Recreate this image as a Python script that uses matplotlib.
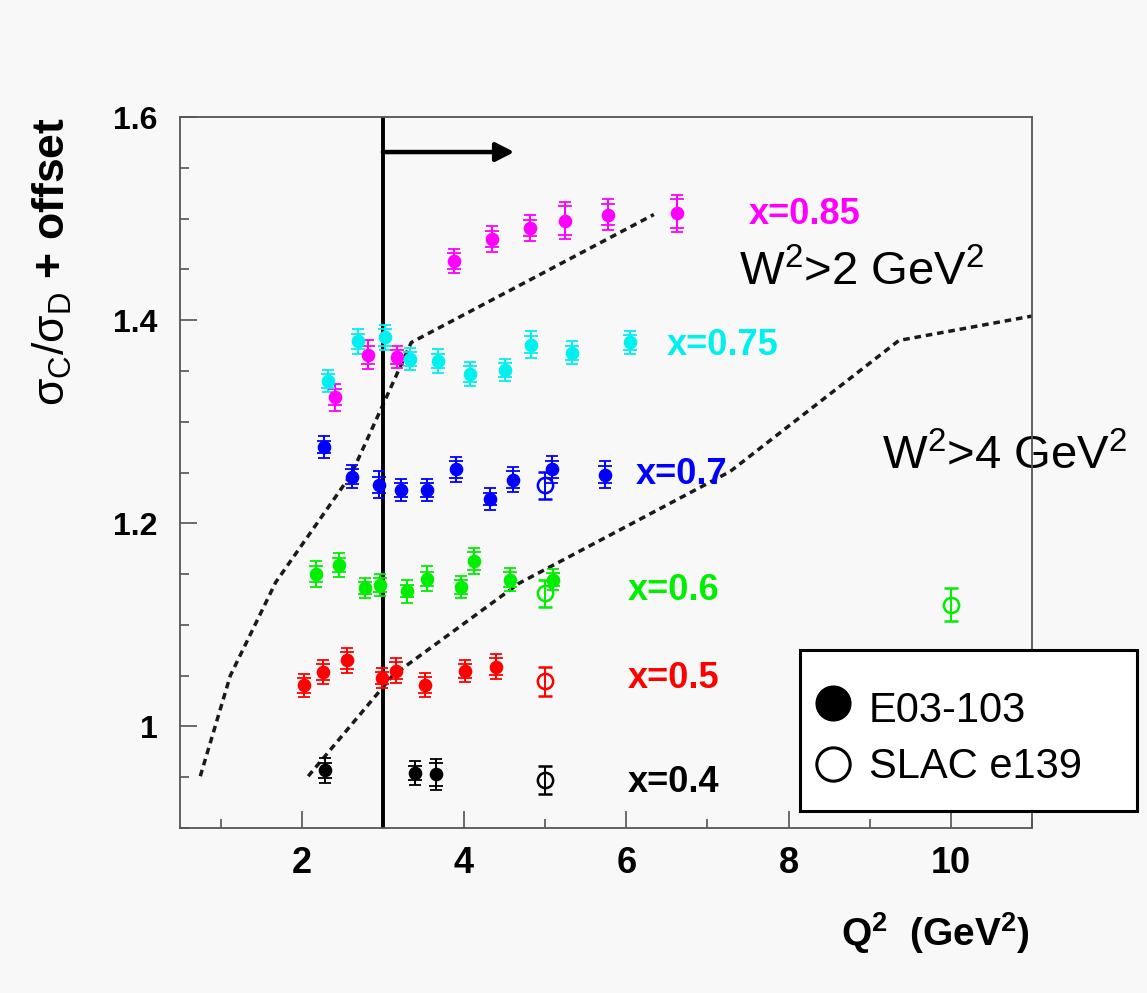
import matplotlib
matplotlib.use("Agg")
import matplotlib.pyplot as plt
from matplotlib.lines import Line2D
from matplotlib.patches import Rectangle
from matplotlib.ticker import FixedLocator, FixedFormatter, MultipleLocator

plt.rcParams['font.family'] = ['Liberation Sans', 'DejaVu Sans']
plt.rcParams['mathtext.fontset'] = 'custom'
plt.rcParams['mathtext.rm'] = 'Liberation Sans'
plt.rcParams['mathtext.it'] = 'Liberation Sans:italic'
plt.rcParams['mathtext.bf'] = 'Liberation Sans:bold'

# ---- datos E03-103 (puntos llenos), uno por cada x ----
q2_085 = [2.41, 2.82, 3.17, 3.88, 4.35, 4.81, 5.25, 5.78, 6.62]
r_085 = [1.324, 1.366, 1.364, 1.458, 1.480, 1.491, 1.498, 1.504, 1.505]
tot_085 = [0.013, 0.014, 0.011, 0.012, 0.013, 0.013, 0.018, 0.015, 0.018]
stat_085 = [0.008, 0.009, 0.007, 0.008, 0.008, 0.008, 0.014, 0.010, 0.014]

q2_075 = [2.33, 2.69, 3.03, 3.33, 3.68, 4.07, 4.50, 4.83, 5.33, 6.04]
r_075 = [1.340, 1.379, 1.383, 1.362, 1.360, 1.347, 1.351, 1.376, 1.368, 1.378]
tot_075 = [0.011, 0.012, 0.012, 0.011, 0.012, 0.012, 0.011, 0.013, 0.011, 0.011]
stat_075 = [0.007, 0.007, 0.008, 0.007, 0.007, 0.008, 0.007, 0.008, 0.007, 0.007]

q2_07 = [2.27, 2.62, 2.95, 3.22, 3.55, 3.90, 4.32, 4.60, 5.09, 5.74]
r_07 = [1.275, 1.246, 1.238, 1.2325, 1.2325, 1.253, 1.224, 1.243, 1.253, 1.248]
tot_07 = [0.011, 0.011, 0.013, 0.011, 0.011, 0.012, 0.011, 0.012, 0.013, 0.013]
stat_07 = [0.006, 0.007, 0.008, 0.007, 0.007, 0.008, 0.006, 0.008, 0.008, 0.008]

q2_06 = [2.17, 2.46, 2.78, 2.96, 3.30, 3.55, 3.96, 4.12, 4.57, 5.10]
r_06 = [1.150, 1.159, 1.136, 1.139, 1.133, 1.1455, 1.137, 1.163, 1.1446, 1.1446]
tot_06 = [0.013, 0.012, 0.010, 0.011, 0.011, 0.012, 0.011, 0.013, 0.011, 0.010]
stat_06 = [0.008, 0.007, 0.006, 0.007, 0.006, 0.007, 0.007, 0.009, 0.007, 0.006]

q2_05 = [2.03, 2.26, 2.56, 2.99, 3.16, 3.52, 4.01, 4.40]
r_05 = [1.0404, 1.0535, 1.065, 1.048, 1.055, 1.041, 1.0546, 1.059]
tot_05 = [0.011, 0.012, 0.012, 0.010, 0.012, 0.012, 0.011, 0.012]
stat_05 = [0.007, 0.008, 0.008, 0.006, 0.008, 0.008, 0.007, 0.008]

q2_04 = [2.29, 3.39, 3.66]
r_04 = [0.9567, 0.9544, 0.9527]
tot_04 = [0.012, 0.012, 0.015]
stat_04 = [0.007, 0.007, 0.011]

# ---- datos SLAC e139 (puntos abiertos) ----
slac_q2 = [5.0, 5.0, 10.0, 5.0, 5.0]
slac_r = [1.2374, 1.131, 1.120, 1.0443, 0.9475]
slac_err = [0.013, 0.013, 0.016, 0.014, 0.014]
slac_colores = ['#0000ff', '#00ee00', '#00ee00', '#ff0000', '#000000']

# ---- cortes en W^2 ----
w2_2_q2 = [0.75, 1.12, 1.68, 2.61, 3.35, 6.34]
w2_2_r = [0.951, 1.05, 1.142, 1.248, 1.378, 1.504]
w2_4_q2 = [2.08, 3.12, 4.68, 7.28, 9.36, 11.0]
w2_4_r = [0.951, 1.05, 1.141, 1.251, 1.38, 1.404]
q2_corte = 3.0

# ---- etiquetas ----
etiquetas_x = ['x=0.85', 'x=0.75', 'x=0.7', 'x=0.6', 'x=0.5', 'x=0.4']
colores_x = ['#ff00ff', '#00f0f0', '#0000ff', '#00ee00', '#ff0000', '#000000']
ytick_vals = [1.0, 1.2, 1.4, 1.6]
ytick_labels = ['1', '1.2', '1.4', '1.6']
xtick_vals = [2, 4, 6, 8, 10]
xtick_labels = ['2', '4', '6', '8', '10']

W, H = 1147, 993
fondo = '#f8f8f8'

fig = plt.figure(figsize=(W / 100, H / 100), dpi=100, facecolor=fondo)
ax = fig.add_axes([180 / W, 1 - 828 / H, 852 / W, 711 / H], facecolor=fondo)


def dibujar_serie(q2, r, tot, stat, color):
    # error total y error estadistico, los dos con tope
    ax.errorbar(q2, r, yerr=tot, fmt='none', ecolor=color, elinewidth=1.4,
                capsize=4, capthick=1.3, zorder=3)
    ax.errorbar(q2, r, yerr=stat, fmt='o', color=color, ms=8.8, elinewidth=1.4,
                capsize=5, capthick=1.3, zorder=4)


dibujar_serie(q2_085, r_085, tot_085, stat_085, colores_x[0])
dibujar_serie(q2_075, r_075, tot_075, stat_075, colores_x[1])
dibujar_serie(q2_07, r_07, tot_07, stat_07, colores_x[2])
dibujar_serie(q2_06, r_06, tot_06, stat_06, colores_x[3])
dibujar_serie(q2_05, r_05, tot_05, stat_05, colores_x[4])
dibujar_serie(q2_04, r_04, tot_04, stat_04, colores_x[5])

for q, r, e, c in zip(slac_q2, slac_r, slac_err, slac_colores):
    ax.errorbar([q], [r], yerr=[e], fmt='o', mfc='none', mec=c, ecolor=c, ms=11,
                mew=1.8, elinewidth=1.4, capsize=5, capthick=1.3, zorder=4)

# curvas W^2 > 2 y W^2 > 4
ax.plot(w2_2_q2, w2_2_r, color='#1a1a1a', lw=2.5, ls=(0, (1.9, 1.4)), zorder=2)
ax.plot(w2_4_q2, w2_4_r, color='#1a1a1a', lw=2.5, ls=(0, (1.9, 1.4)), zorder=2)

# corte en Q^2 con flecha
ax.axvline(q2_corte, color='black', lw=2.8, zorder=2)
ax.annotate('', xy=(4.62, 1.5655), xytext=(q2_corte, 1.5655),
            arrowprops=dict(arrowstyle='-|>,head_length=0.55,head_width=0.28',
                            mutation_scale=20, lw=3.2, color='black',
                            shrinkA=0, shrinkB=0))

# textos de cada x
pos_x = [7.51, 6.50, 6.12, 6.02, 6.02, 6.02]
pos_y = [1.4946, 1.3655, 1.2384, 1.1241, 1.0374, 0.9353]
for txt, c, px, py in zip(etiquetas_x, colores_x, pos_x, pos_y):
    ax.text(px, py, txt, color=c, fontsize=26, fontweight='bold', va='baseline', zorder=2)

ax.text(7.39, 1.4343, r'W$^2$>2 GeV$^2$', fontsize=34, va='baseline', zorder=2)
ax.text(9.15, 1.2535, r'W$^2$>4 GeV$^2$', fontsize=34, va='baseline', zorder=2)

ax.set_xlim(0.5, 11)
ax.set_ylim(0.9, 1.6)
ax.xaxis.set_major_locator(FixedLocator(xtick_vals))
ax.xaxis.set_major_formatter(FixedFormatter(xtick_labels))
ax.xaxis.set_minor_locator(MultipleLocator(1))
ax.yaxis.set_major_locator(FixedLocator(ytick_vals))
ax.yaxis.set_major_formatter(FixedFormatter(ytick_labels))
ax.yaxis.set_minor_locator(MultipleLocator(0.05))
ax.tick_params(which='both', direction='in', top=False, right=False,
               color='#444444', width=1.1)
ax.tick_params(which='major', length=12)
ax.tick_params(which='minor', length=6.5)
ax.tick_params(axis='x', which='major', pad=13, labelsize=26)
ax.tick_params(axis='y', which='major', pad=16, labelsize=23)
for lab in ax.get_xticklabels() + ax.get_yticklabels():
    lab.set_fontweight('bold')
for sp in ax.spines.values():
    sp.set_color('#555555')
    sp.set_linewidth(1.3)

# titulos de los ejes
fig.text(52 / W, 1 - 117 / H, r'$\mathrm{\sigma_C/\sigma_D}$ + offset', rotation=90,
         fontsize=32, fontweight='bold', ha='center', va='top')
fig.text(1030 / W, 1 - 946 / H, r'$\mathbf{Q^2\ \ (GeV^2)}$',
         fontsize=28, ha='right', va='baseline')

# leyenda a mano
caja = Rectangle((800 / W, 1 - 810.7 / H), 337 / W, 160.7 / H, transform=fig.transFigure,
                 facecolor='white', edgecolor='black', lw=2.2, zorder=10)
fig.add_artist(caja)
fig.add_artist(Line2D([832.7 / W], [1 - 703.3 / H], marker='o', ms=25, color='black',
                      ls='none', transform=fig.transFigure, zorder=11))
fig.add_artist(Line2D([832.7 / W], [1 - 764 / H], marker='o', ms=24, mfc='white',
                      mec='black', mew=2.2, ls='none', transform=fig.transFigure, zorder=11))
fig.text(869 / W, 1 - 721.7 / H, 'E03-103', fontsize=30, va='baseline', zorder=12)
fig.text(869 / W, 1 - 777.7 / H, 'SLAC e139', fontsize=30, va='baseline', zorder=12)

fig.savefig('out.png', dpi=100, facecolor=fondo)
